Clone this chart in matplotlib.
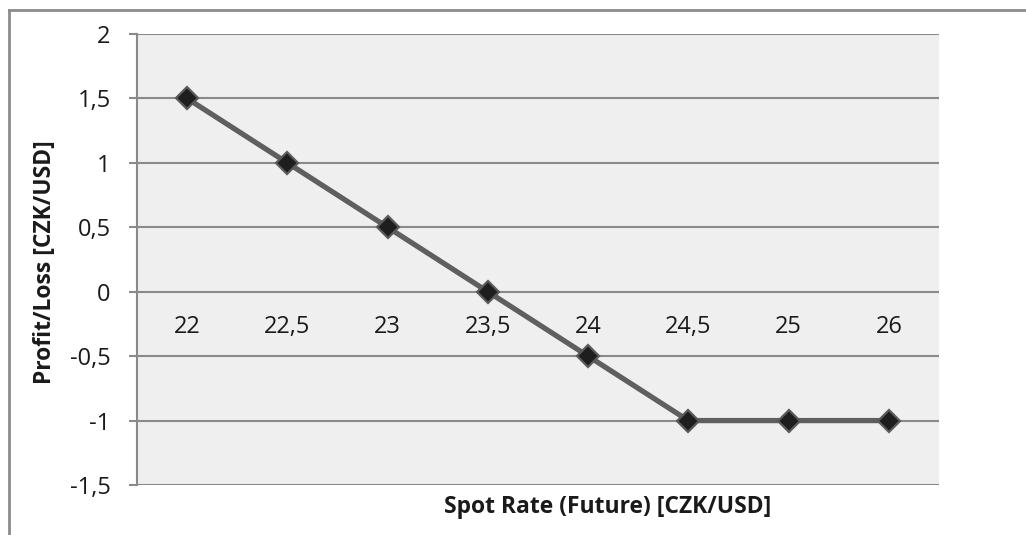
import matplotlib.pyplot as plt
from matplotlib.lines import Line2D

categories = ["22", "22,5", "23", "23,5", "24", "24,5", "25", "26"]
profit_loss = [1.5, 1.0, 0.5, 0.0, -0.5, -1.0, -1.0, -1.0]
y_ticks = [-1.5, -1.0, -0.5, 0.0, 0.5, 1.0, 1.5, 2.0]

plt.rcParams["font.family"] = ["Open Sans", "DejaVu Sans"]

W, H = 1026, 535
fig = plt.figure(figsize=(W / 100, H / 100), dpi=100)
ax = fig.add_axes([137 / W, 1 - 485 / H, (939 - 137) / W, (485 - 34) / H])
ax.set_facecolor("#efefef")

# outer chart frame (cut off at right and bottom)
fig.add_artist(Line2D([9 / W, 9 / W], [0, 1 - 10 / H], transform=fig.transFigure,
                      color="#8c8c8c", lw=2))
fig.add_artist(Line2D([9 / W, 1], [1 - 10 / H, 1 - 10 / H], transform=fig.transFigure,
                      color="#8c8c8c", lw=2))

x = list(range(len(categories)))
ax.set_xlim(-0.5, len(categories) - 0.5)
ax.set_ylim(-1.5, 2)

for yt in y_ticks:
    ax.axhline(yt, color="#8a8a8a", lw=1.5, zorder=1)

ax.plot(x, profit_loss, color="#5f5f5f", lw=3.8, zorder=3,
        marker="D", markersize=11.5, markerfacecolor="#1e1e1e",
        markeredgecolor="#5a5a5a", markeredgewidth=1.6)

for s in ["top", "right", "bottom"]:
    ax.spines[s].set_visible(False)
ax.spines["left"].set_color("#8a8a8a")
ax.spines["left"].set_linewidth(1.5)

ax.set_yticks(y_ticks)
ax.set_yticklabels([("%g" % v).replace(".", ",") for v in y_ticks], fontsize=17,
                   color="#1a1a1a")
ax.tick_params(axis="y", length=6, width=1.5, color="#8a8a8a", pad=13)
ax.set_xticks([])

# category labels sit just below the zero line (Excel axis crossing at 0)
for xi, lab in zip(x, categories):
    ax.text(xi, -0.27, lab, ha="center", va="center", fontsize=17, color="#1a1a1a")

fig.text(608 / W, 1 - 507 / H, "Spot Rate (Future) [CZK/USD]", ha="center",
         va="center", fontsize=16.5, fontweight="bold", color="#1a1a1a")
fig.text(45 / W, 1 - 262 / H, "Profit/Loss [CZK/USD]", ha="center", va="center",
         rotation=90, fontsize=16.5, fontweight="bold", color="#1a1a1a")

fig.savefig("out.png", dpi=100)
